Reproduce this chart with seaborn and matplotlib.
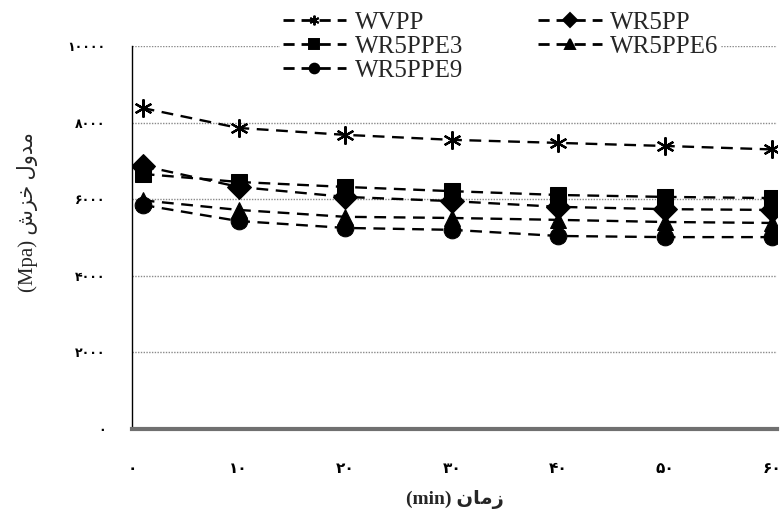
import numpy as np
import pandas as pd
import seaborn as sns
import matplotlib.pyplot as plt
from matplotlib.lines import Line2D

# ---- data ----
time = [1, 10, 20, 30, 40, 50, 60]
wvpp = [8380, 7860, 7680, 7550, 7470, 7390, 7300]
wr5pp = [6870, 6320, 6060, 5950, 5800, 5740, 5720]
wr5ppe3 = [6660, 6450, 6320, 6210, 6110, 6060, 6030]
wr5ppe6 = [5970, 5720, 5540, 5510, 5460, 5405, 5380]
wr5ppe9 = [5850, 5430, 5250, 5200, 5040, 5010, 5010]

series_names = ["WVPP", "WR5PP", "WR5PPE3", "WR5PPE6", "WR5PPE9"]
series_vals = [wvpp, wr5pp, wr5ppe3, wr5ppe6, wr5ppe9]

x_ticks = [0, 10, 20, 30, 40, 50, 60]
x_tick_labels = ["۰", "۱۰", "۲۰", "۳۰", "۴۰", "۵۰", "۶۰"]
y_ticks = [0, 2000, 4000, 6000, 8000, 10000]
y_tick_labels = ["۰", "۲۰۰۰", "۴۰۰۰", "۶۰۰۰", "۸۰۰۰", "۱۰۰۰۰"]

# Persian labels written in visual (shaped, reversed) order
x_label = "(min) " + "\uFEE5\uFE8E\uFEE3\uFEAF"
y_label = "(Mpa) " + "\uFEB5\uFEB0\uFEA7" + " " + "\uFEDD\uFEED\uFEAA\uFEE3"

rows = []
for n, v in zip(series_names, series_vals):
    for t, y in zip(time, v):
        rows.append({"t": t, "v": y, "s": n})
df = pd.DataFrame(rows)

sns.set_style("white")
plt.rcParams["font.family"] = ["Liberation Serif", "DejaVu Sans"]

fig = plt.figure(figsize=(7.81, 5.2), dpi=100)
ax = fig.add_axes([132 / 781, 91 / 520, 645 / 781, 383 / 520])

dash = (5, 3.2)
filled = ["WR5PP", "WR5PPE3", "WR5PPE6", "WR5PPE9"]
markers = {"WR5PP": "D", "WR5PPE3": "s", "WR5PPE6": "^", "WR5PPE9": "o"}

sns.lineplot(data=df[df.s.isin(filled)], x="t", y="v", hue="s", style="s",
             palette={k: "black" for k in filled},
             markers=markers, dashes={k: dash for k in filled},
             markersize=12, markeredgecolor="black", linewidth=1.7,
             legend=False, ax=ax, zorder=3)
sns.lineplot(data=df[df.s == "WVPP"], x="t", y="v", color="black",
             marker=(6, 2, 0), markersize=13, markeredgewidth=1.6,
             markeredgecolor="black", dashes=[dash], style="s",
             linewidth=1.7, legend=False, ax=ax, zorder=3)

ax.set_xlim(0, 60.5)
ax.set_ylim(0, 10000)
ax.set_xticks(x_ticks)
ax.set_xticklabels(x_tick_labels, fontsize=11, fontweight="bold",
                   family=["DejaVu Sans"])
ax.set_yticks(y_ticks)
ax.set_yticklabels(y_tick_labels, fontsize=9, fontweight="bold",
                   family=["DejaVu Sans"])
ax.tick_params(axis="x", direction="inout", length=10, width=1.2,
               pad=18, colors="black")
ax.tick_params(axis="y", direction="out", length=7, width=1.0,
               pad=12, colors="black")

for y in y_ticks[1:]:
    ax.axhline(y, color="#8a8a8a", lw=1.0, ls=(0, (1, 1)), zorder=1)

for s in ["top", "right"]:
    ax.spines[s].set_visible(False)
ax.spines["left"].set_color("black")
ax.spines["left"].set_linewidth(1.0)
ax.spines["bottom"].set_color("#707070")
ax.spines["bottom"].set_linewidth(3.0)

ax.set_xlabel(x_label, fontsize=14, fontweight="bold",
              family=["Liberation Serif", "DejaVu Sans"], labelpad=10)
ax.set_ylabel(y_label, fontsize=15,
              family=["Liberation Serif", "DejaVu Sans"])
ax.yaxis.set_label_coords((38 - 132) / 645, (429 - 212) / 383)

# legend
lmark = {"WVPP": (6, 2, 0), **markers}
order = ["WVPP", "WR5PPE3", "WR5PPE9", "WR5PP", "WR5PPE6"]
handles = [Line2D([], [], color="black", lw=2.0, ls=(0, (4, 2.5)),
                  marker=lmark[n], markersize=7,
                  markeredgewidth=1.4, markeredgecolor="black",
                  markerfacecolor="black")
           for n in order]
leg = fig.legend(handles, order, ncol=2, loc="upper left",
                 bbox_to_anchor=(280 / 781, 1.0 - 9 / 520), frameon=True,
                 facecolor="white", edgecolor="none", fancybox=False,
                 prop={"family": "Liberation Serif", "size": 18},
                 handlelength=2.55, handletextpad=0.33, columnspacing=3.0,
                 labelspacing=0.06, borderpad=0.1, borderaxespad=0.0)
leg.get_frame().set_alpha(1.0)

fig.savefig("out.png", dpi=100)
